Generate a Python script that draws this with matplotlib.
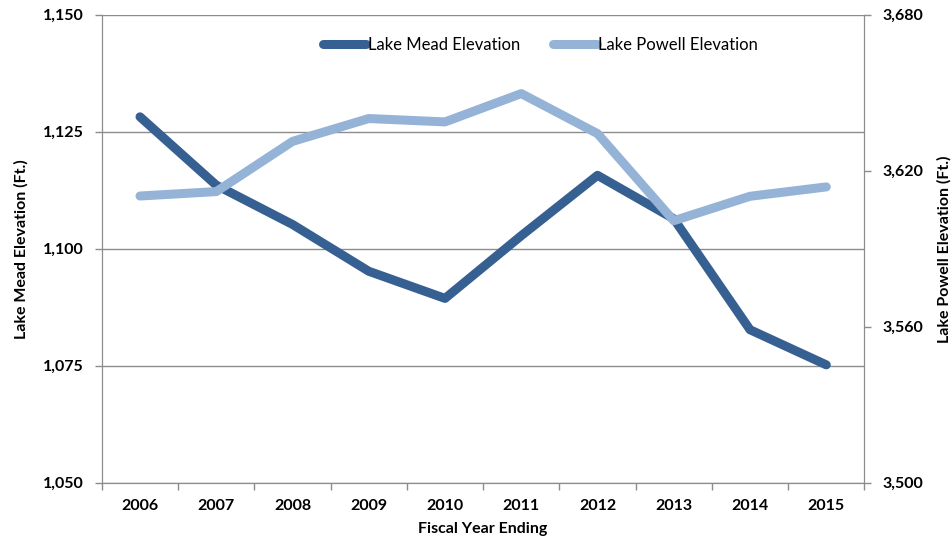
import matplotlib.pyplot as plt
import numpy as np

plt.rcParams['font.family'] = ['Lato', 'DejaVu Sans']

years = ['2006', '2007', '2008', '2009', '2010', '2011', '2012', '2013', '2014', '2015']
mead = [1128.2, 1113.6, 1105.2, 1095.2, 1089.4, 1102.8, 1115.7, 1106.4, 1082.7, 1075.2]
powell = [3610.3, 3612.0, 3631.3, 3640.1, 3638.8, 3649.7, 3634.3, 3600.8, 3610.2, 3613.8]

mead_ticks = [1050, 1075, 1100, 1125, 1150]
powell_ticks = [3500, 3560, 3620, 3680]

dark = '#376092'
light = '#95b3d7'
grey = '#8c8c8c'

fig = plt.figure(figsize=(9.52, 5.48), dpi=100)
ax = fig.add_axes([0.107, 0.119, 0.801, 0.854])
ax2 = ax.twinx()

x = np.arange(len(years))
l1, = ax.plot(x, mead, color=dark, lw=6.5, solid_capstyle='round', solid_joinstyle='round',
              label='Lake Mead Elevation')
l2, = ax2.plot(x, powell, color=light, lw=6.5, solid_capstyle='round', solid_joinstyle='round',
               label='Lake Powell Elevation')

ax.set_xlim(-0.5, len(years) - 0.5)
ax.set_ylim(1050, 1150)
ax2.set_ylim(3500, 3680)
ax.set_yticks(mead_ticks)
ax.set_yticklabels([f'{v:,}' for v in mead_ticks])
ax2.set_yticks(powell_ticks)
ax2.set_yticklabels([f'{v:,}' for v in powell_ticks])

# category labels centred, tick marks on the boundaries
ax.set_xticks(x)
ax.set_xticklabels(years)
ax.set_xticks(np.arange(-0.5, len(years)), minor=True)
ax.tick_params(axis='x', which='major', length=0, pad=12)
ax.tick_params(axis='x', which='minor', length=5, color=grey, width=1)

ax.grid(axis='y', color=grey, lw=1)
ax.set_axisbelow(True)

for a in (ax, ax2):
    a.spines['top'].set_visible(False)
    for s in ('left', 'right', 'bottom'):
        a.spines[s].set_color(grey)
    a.tick_params(axis='y', length=5, color=grey, width=1, pad=8)
    for lab in a.get_yticklabels() + a.get_xticklabels():
        lab.set_fontweight('bold')
        lab.set_fontsize(11.5)

ax.set_xlabel('Fiscal Year Ending', fontweight='bold', fontsize=11.5, labelpad=6)
ax.set_ylabel('Lake Mead Elevation (Ft.)', fontweight='bold', fontsize=11.5, labelpad=10)
ax2.set_ylabel('Lake Powell Elevation (Ft.)', fontweight='bold', fontsize=11.5, labelpad=10)

ax2.legend(handles=[l1, l2], loc='upper center', bbox_to_anchor=(0.575, 0.985), ncol=2,
           frameon=False, fontsize=12, handlelength=2.6, handletextpad=0.1,
           columnspacing=2.0)

fig.savefig('out.png', dpi=100)
